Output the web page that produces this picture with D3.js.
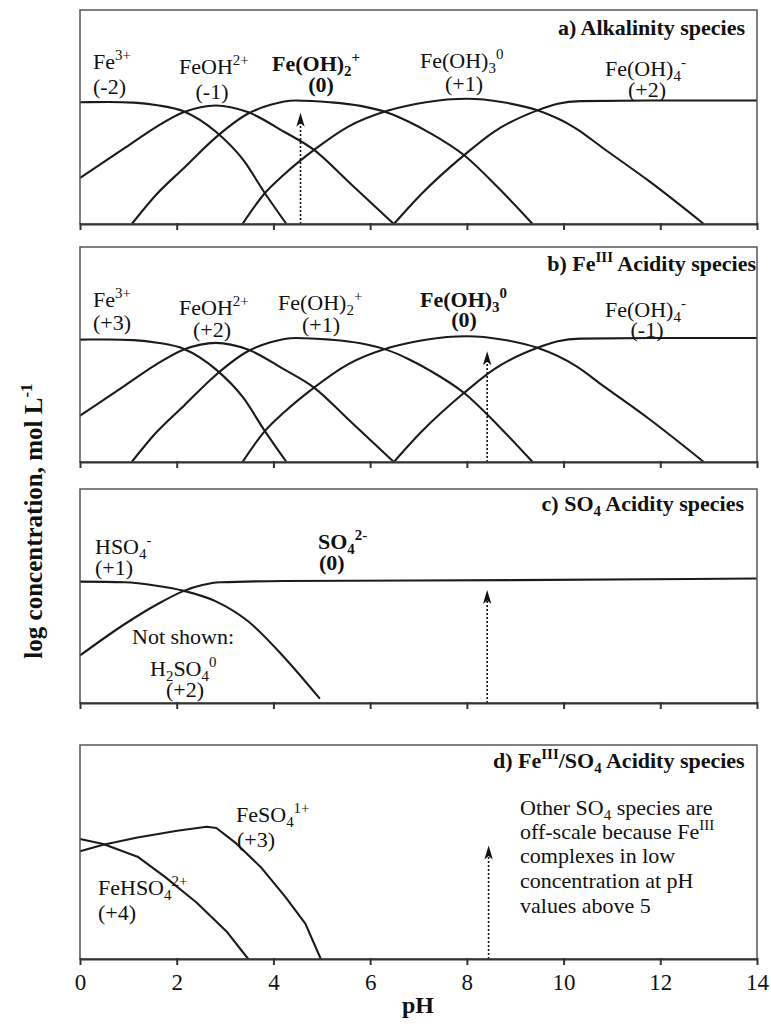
<!DOCTYPE html>
<html><head><meta charset="utf-8">
<script src="https://cdn.jsdelivr.net/npm/d3@7"></script>
<style>
body{margin:0;background:#fff}
svg{display:block}
text{font-family:"Liberation Serif","Times New Roman",serif;fill:#111}
</style>
</head><body><div id="chart"></div>
<script>
// ---------- data (pH, relative log concentration 0..100 of panel height) ----------
const phTicks = [0, 2, 4, 6, 8, 10, 12, 14];

const fe3 = [[0,56.9],[0.6,57.0],[1.11,56.7],[1.6,55.5],[2.15,52.6],[2.81,43.1],[3.38,29.8],[3.80,15.2],[4.27,0]];
const feOH = [[0,21.5],[0.92,35.4],[1.58,45.4],[2.15,52.3],[2.81,55.4],[3.47,52.3],[4.22,43.1],[4.84,34.6],[5.54,20.0],[6.49,0]];
const feOH2 = [[1.07,0],[1.58,13.8],[2.15,26.2],[2.81,40.5],[3.47,51.5],[3.94,55.7],[4.46,57.7],[5.17,56.9],[5.8,55.2],[6.39,51.8],[6.8,47.8],[7.24,42.5],[7.95,32.0],[8.65,16.9],[9.36,0]];
const feOH3 = [[3.36,0],[3.80,13.8],[4.22,23.1],[4.84,34.6],[5.54,45.4],[6.39,53.1],[7.15,56.9],[8.0,58.5],[8.75,56.9],[9.46,53.1],[10.26,44.6],[10.82,35.4],[11.77,20.0],[12.90,0]];
const feOH4 = [[6.49,0],[7.05,13.8],[7.95,32.3],[8.56,43.1],[9.46,53.1],[9.88,56.2],[10.35,57.4],[11.77,57.7],[14,57.7]];

const hso4 = [[0,56.7],[0.92,56.4],[1.58,54.8],[2.15,52.4],[2.81,47.5],[3.47,38.3],[4.22,21.4],[4.96,2]];
const so4 = [[0,22.2],[0.92,36.8],[1.58,45.9],[2.15,52.4],[2.53,55.1],[2.9,56.4],[4.22,57.0],[8.94,57.4],[14,58.2]];

const feSO4 = [[0,50.3],[0.48,53.4],[1.19,56.8],[2.01,59.9],[2.62,61.8],[2.82,61.2],[3.23,54.0],[3.74,42.9],[4.25,28.9],[4.66,16.5],[4.98,0]];
const feHSO4 = [[0,56.1],[0.48,53.7],[1.19,47.8],[1.75,38.5],[2.41,26.4],[3.03,12.9],[3.48,0]];

// arrows: [pH, tip level]
const arrowA = [4.56, 52];
const arrowB = [8.42, 51.5];
const arrowC = [8.42, 52.8];
const arrowD = [8.45, 53];

const titles = ["a) Alkalinity species", "b) Fe{III} Acidity species", "c) SO[4] Acidity species", "d) Fe{III}/SO[4] Acidity species"];
const yTitle = "log concentration, mol L{-1}";
const xTitle = "pH";

// ---------- layout ----------
const W = 771, H = 1026;
const X0 = 80, X1 = 757;
const panelTops = [10, 247, 489, 745];
const panelBots = [224, 462, 703, 959];
const FS = 22;

const svg = d3.select("#chart").append("svg").attr("width", W).attr("height", H)
  .attr("viewBox", `0 0 ${W} ${H}`);
svg.append("rect").attr("width", W).attr("height", H).attr("fill", "#fff");

const x = d3.scaleLinear().domain([0, 14]).range([X0, X1]);

// rich text: "{...}" superscript, "[...]" subscript
function parseRich(s) {
  const parts = []; const re = /(\{[^}]*\}|\[[^\]]*\]|[^{\[]+)/g; let m;
  while ((m = re.exec(s))) {
    const t = m[0];
    if (t[0] === "{") parts.push([t.slice(1, -1), "sup"]);
    else if (t[0] === "[") parts.push([t.slice(1, -1), "sub"]);
    else parts.push([t, ""]);
  }
  return parts;
}
function rich(g, px, py, s, opt = {}) {
  const fs = opt.size || FS;
  const t = g.append("text").attr("x", px).attr("y", py)
    .attr("font-size", fs)
    .attr("font-weight", opt.bold ? "bold" : "normal")
    .attr("text-anchor", opt.anchor || "start");
  if (opt.transform) t.attr("transform", opt.transform);
  let cur = 0;
  parseRich(s).forEach(([txt, k]) => {
    const target = k === "sup" ? -0.4 * fs : k === "sub" ? 0.24 * fs : 0;
    const ts = t.append("tspan").text(txt).attr("dy", target - cur);
    if (k) ts.attr("font-size", fs * 0.68);
    cur = target;
  });
  return t;
}

const curvesByPanel = [
  [fe3, feOH, feOH2, feOH3, feOH4],
  [fe3, feOH, feOH2, feOH3, feOH4],
  [hso4, so4],
  [feSO4, feHSO4]
];
const arrows = [arrowA, arrowB, arrowC, arrowD];

const labelsByPanel = [
  [ {s:"Fe{3+}", x:93, y:69}, {s:"(-2)", x:93, y:94},
    {s:"FeOH{2+}", x:179, y:74}, {s:"(-1)", x:212, y:99, a:"middle"},
    {s:"Fe(OH)[2]{+}", x:272, y:71, b:1}, {s:"(0)", x:321, y:92, a:"middle", b:1},
    {s:"Fe(OH)[3]{0}", x:420, y:68}, {s:"(+1)", x:464, y:91, a:"middle"},
    {s:"Fe(OH)[4]{-}", x:605, y:76}, {s:"(+2)", x:647, y:97, a:"middle"} ],
  [ {s:"Fe{3+}", x:93, y:307}, {s:"(+3)", x:93, y:330},
    {s:"FeOH{2+}", x:179, y:315}, {s:"(+2)", x:212, y:337, a:"middle"},
    {s:"Fe(OH)[2]{+}", x:278, y:310}, {s:"(+1)", x:321, y:332, a:"middle"},
    {s:"Fe(OH)[3]{0}", x:420, y:307, b:1}, {s:"(0)", x:464, y:327, a:"middle", b:1},
    {s:"Fe(OH)[4]{-}", x:605, y:317}, {s:"(-1)", x:647, y:337, a:"middle"} ],
  [ {s:"HSO[4]{-}", x:95, y:554}, {s:"(+1)", x:95, y:575},
    {s:"SO[4]{2-}", x:318, y:549, b:1}, {s:"(0)", x:319, y:570, b:1},
    {s:"Not shown:", x:132, y:644},
    {s:"H[2]SO[4]{0}", x:150, y:676}, {s:"(+2)", x:166, y:697} ],
  [ {s:"FeSO[4]{1+}", x:236, y:822}, {s:"(+3)", x:237, y:847},
    {s:"FeHSO[4]{2+}", x:98, y:895}, {s:"(+4)", x:98, y:920},
    {s:"Other SO[4] species are", x:520, y:815},
    {s:"off-scale because Fe{III}", x:520, y:839},
    {s:"complexes in low", x:520, y:863},
    {s:"concentration at pH", x:520, y:888},
    {s:"values above 5", x:520, y:913} ]
];
const titlePos = [{x:745, y:35, a:"end"}, {x:756, y:271, a:"end"}, {x:744, y:511, a:"end"}, {x:493, y:768, a:"start"}];

panelTops.forEach((top, i) => {
  const bot = panelBots[i];
  const y = d3.scaleLinear().domain([0, 100]).range([bot, top]);
  const g = svg.append("g");
  const clipId = "clip" + i;
  svg.append("clipPath").attr("id", clipId).append("rect")
    .attr("x", X0).attr("y", top).attr("width", X1 - X0).attr("height", bot - top);

  // curves
  const line = d3.line().x(d => x(d[0])).y(d => y(d[1]))
    .curve(i === 3 ? d3.curveLinear : d3.curveMonotoneX);
  curvesByPanel[i].forEach(c => {
    g.append("path").attr("d", line(c)).attr("fill", "none")
      .attr("stroke", "#1b1b1b").attr("stroke-width", 2.1)
      .attr("stroke-linejoin", "round");
  });

  // dotted arrow
  const [aph, alev] = arrows[i];
  const ax = x(aph), ay = y(alev);
  g.append("line").attr("x1", ax).attr("x2", ax).attr("y1", bot).attr("y2", ay + 8)
    .attr("stroke", "#111").attr("stroke-width", 1.6).attr("stroke-dasharray", "2,2");
  g.append("path").attr("d", `M${ax},${ay} L${ax+4.2},${ay+14} L${ax},${ay+10.5} L${ax-4.2},${ay+14} Z`)
    .attr("fill", "#111");

  // labels
  labelsByPanel[i].forEach(l => rich(g, l.x, l.y, l.s, {anchor: l.a || "start", bold: !!l.b}));

  // title
  const tp = titlePos[i];
  rich(g, tp.x, tp.y, titles[i], {anchor: tp.a, bold: true}).attr("clip-path", `url(#${clipId})`);

  // frame
  g.append("rect").attr("x", X0).attr("y", top).attr("width", X1 - X0).attr("height", bot - top)
    .attr("fill", "none").attr("stroke", "#555").attr("stroke-width", 1.5);

  // axis
  const axis = d3.axisBottom(x).tickValues(phTicks).tickSize(6).tickSizeOuter(0)
    .tickFormat(i === 3 ? d3.format("d") : () => "");
  const ag = svg.append("g").attr("transform", `translate(0,${bot})`).call(axis);
  ag.select(".domain").attr("stroke", "#333").attr("stroke-width", 2.2);
  ag.selectAll(".tick line").attr("stroke", "#333").attr("stroke-width", 2).attr("y1", -1);
  ag.selectAll(".tick text").attr("font-size", 23).attr("font-family", '"Liberation Serif",serif')
    .attr("fill", "#111").attr("dy", "0").attr("y", 31);
});

// axis titles
rich(svg, 418, 1013, xTitle, {anchor: "middle", bold: true, size: 24});
rich(svg, 0, 0, yTitle, {anchor: "middle", bold: true, size: 25, transform: "translate(42,521) rotate(-90)"});
</script>
</body></html>
